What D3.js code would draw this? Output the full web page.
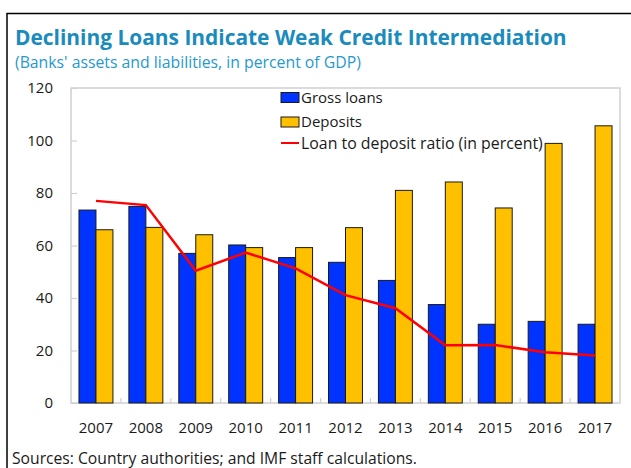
<!DOCTYPE html>
<html>
<head>
<meta charset="utf-8">
<script src="https://cdn.jsdelivr.net/npm/d3@7"></script>
<style>
  html, body { margin: 0; padding: 0; background: #fff; }
  svg { display: block; }
  text { font-family: "Open Sans", "Noto Sans", sans-serif; }
</style>
</head>
<body>
<script>
// Banks' gross loans, deposits (percent of GDP) and loan-to-deposit ratio
const years = ["2007", "2008", "2009", "2010", "2011", "2012", "2013", "2014", "2015", "2016", "2017"];
const grossLoans = [73.5, 74.9, 57.0, 60.2, 55.4, 53.6, 46.7, 37.5, 30.0, 31.1, 30.0];
const deposits = [66.0, 66.9, 64.1, 59.2, 59.2, 66.8, 81.0, 84.2, 74.3, 98.9, 105.6];
const loanToDeposit = [77.0, 75.4, 50.4, 57.3, 51.3, 41.1, 36.1, 22.0, 22.1, 19.3, 18.1];
const yTicks = [0, 20, 40, 60, 80, 100, 120];

const seriesKeys = ["loans", "deposits"];
const seriesLabels = { loans: "Gross loans", deposits: "Deposits", ratio: "Loan to deposit ratio (in percent)" };
const colors = { loans: "#0033ff", deposits: "#ffc000", ratio: "#ff0000" };

const W = 631, H = 468;
const plot = { left: 71, right: 620, top: 88, bottom: 403 };

const svg = d3.select("body").append("svg").attr("width", W).attr("height", H);

// Shrink or grow a text's font size so it spans a given width
function fitWidth(sel, target) {
  const node = sel.node();
  const fs = parseFloat(sel.attr("font-size"));
  const w = node.getComputedTextLength();
  if (w > 0) sel.attr("font-size", (fs * target / w).toFixed(2));
  return sel;
}

// Outer frame (top and left edges)
svg.append("path")
  .attr("d", `M7,${H} L7,13.5 L${W},13.5`)
  .attr("fill", "none").attr("stroke", "#000").attr("stroke-width", 1.5);

// Title and subtitle
fitWidth(svg.append("text")
  .attr("x", 15).attr("y", 45)
  .attr("font-size", 22).attr("font-weight", "bold")
  .attr("fill", "#1a8bbd")
  .text("Declining Loans Indicate Weak Credit Intermediation"), 552);

fitWidth(svg.append("text")
  .attr("x", 15).attr("y", 68)
  .attr("font-size", 16)
  .attr("fill", "#2698d0")
  .text("(Banks' assets and liabilities, in percent of GDP)"), 346);

// Scales
const x0 = d3.scaleBand().domain(years).range([plot.left, plot.right]).padding(0);
const x1 = d3.scaleBand().domain(seriesKeys).range([0, x0.bandwidth()])
  .paddingInner(0).paddingOuter(0.47);
const y = d3.scaleLinear().domain([0, 120]).range([plot.bottom, plot.top]);

const gridColor = "#d0d0d0";

// Plot border
svg.append("rect")
  .attr("x", plot.left).attr("y", plot.top)
  .attr("width", plot.right - plot.left).attr("height", plot.bottom - plot.top)
  .attr("fill", "none").attr("stroke", gridColor).attr("stroke-width", 1.5);

// Y axis: inward ticks, labels on the left
const yAxis = d3.axisRight(y).tickValues(yTicks).tickSize(6).tickFormat("");
const gy = svg.append("g").attr("transform", `translate(${plot.left},0)`).call(yAxis);
gy.select(".domain").remove();
gy.selectAll(".tick line").attr("stroke", gridColor).attr("stroke-width", 1.2);

svg.append("g").selectAll("text").data(yTicks).join("text")
  .attr("x", 53).attr("y", d => y(d)).attr("dy", "0.36em")
  .attr("text-anchor", "end").attr("font-size", 15).attr("fill", "#1a1a1a")
  .text(d => d);

// X axis: small inward ticks on category boundaries
const boundaries = years.slice(1).map(yr => x0(yr));
svg.append("g").selectAll("line").data(boundaries).join("line")
  .attr("x1", d => d).attr("x2", d => d)
  .attr("y1", plot.bottom).attr("y2", plot.bottom - 5)
  .attr("stroke", gridColor).attr("stroke-width", 1.2);

svg.append("g").selectAll("text").data(years).join("text")
  .attr("x", d => x0(d) + x0.bandwidth() / 2).attr("y", 433)
  .attr("text-anchor", "middle").attr("font-size", 15).attr("fill", "#1a1a1a")
  .text(d => d);

// Bars
const rows = years.map((yr, i) => ({ year: yr, loans: grossLoans[i], deposits: deposits[i] }));
const groups = svg.append("g").selectAll("g").data(rows).join("g")
  .attr("transform", d => `translate(${x0(d.year)},0)`);
groups.selectAll("rect")
  .data(d => seriesKeys.map(k => ({ key: k, value: d[k] })))
  .join("rect")
  .attr("x", d => x1(d.key))
  .attr("y", d => y(d.value))
  .attr("width", x1.bandwidth())
  .attr("height", d => y(0) - y(d.value))
  .attr("fill", d => colors[d.key])
  .attr("stroke", "#1a1a1a").attr("stroke-width", 1);

// Loan to deposit ratio line
const line = d3.line()
  .x((d, i) => x0(years[i]) + x0.bandwidth() / 2)
  .y(d => y(d));
svg.append("path")
  .datum(loanToDeposit)
  .attr("d", line)
  .attr("fill", "none").attr("stroke", colors.ratio).attr("stroke-width", 2.5)
  .attr("stroke-linejoin", "miter");

// Legend
const legend = svg.append("g");
const lx = 281;
[["loans", 97.5], ["deposits", 122]].forEach(([k, cy]) => {
  legend.append("rect")
    .attr("x", lx).attr("y", cy - 5).attr("width", 18).attr("height", 10)
    .attr("fill", colors[k]).attr("stroke", "#1a1a1a").attr("stroke-width", 1);
  legend.append("text")
    .attr("x", lx + 20).attr("y", cy).attr("dy", "0.36em")
    .attr("font-size", 15).attr("fill", "#1a1a1a")
    .text(seriesLabels[k]);
});
legend.append("line")
  .attr("x1", lx).attr("x2", lx + 18).attr("y1", 143).attr("y2", 143)
  .attr("stroke", colors.ratio).attr("stroke-width", 2);
fitWidth(legend.append("text")
  .attr("x", lx + 20).attr("y", 143).attr("dy", "0.36em")
  .attr("font-size", 15).attr("fill", "#1a1a1a")
  .text(seriesLabels.ratio), 242);

// Source note
fitWidth(svg.append("text")
  .attr("x", 12).attr("y", 464)
  .attr("font-size", 15).attr("fill", "#1a1a1a")
  .text("Sources: Country authorities; and IMF staff calculations."), 405);
</script>
</body>
</html>
